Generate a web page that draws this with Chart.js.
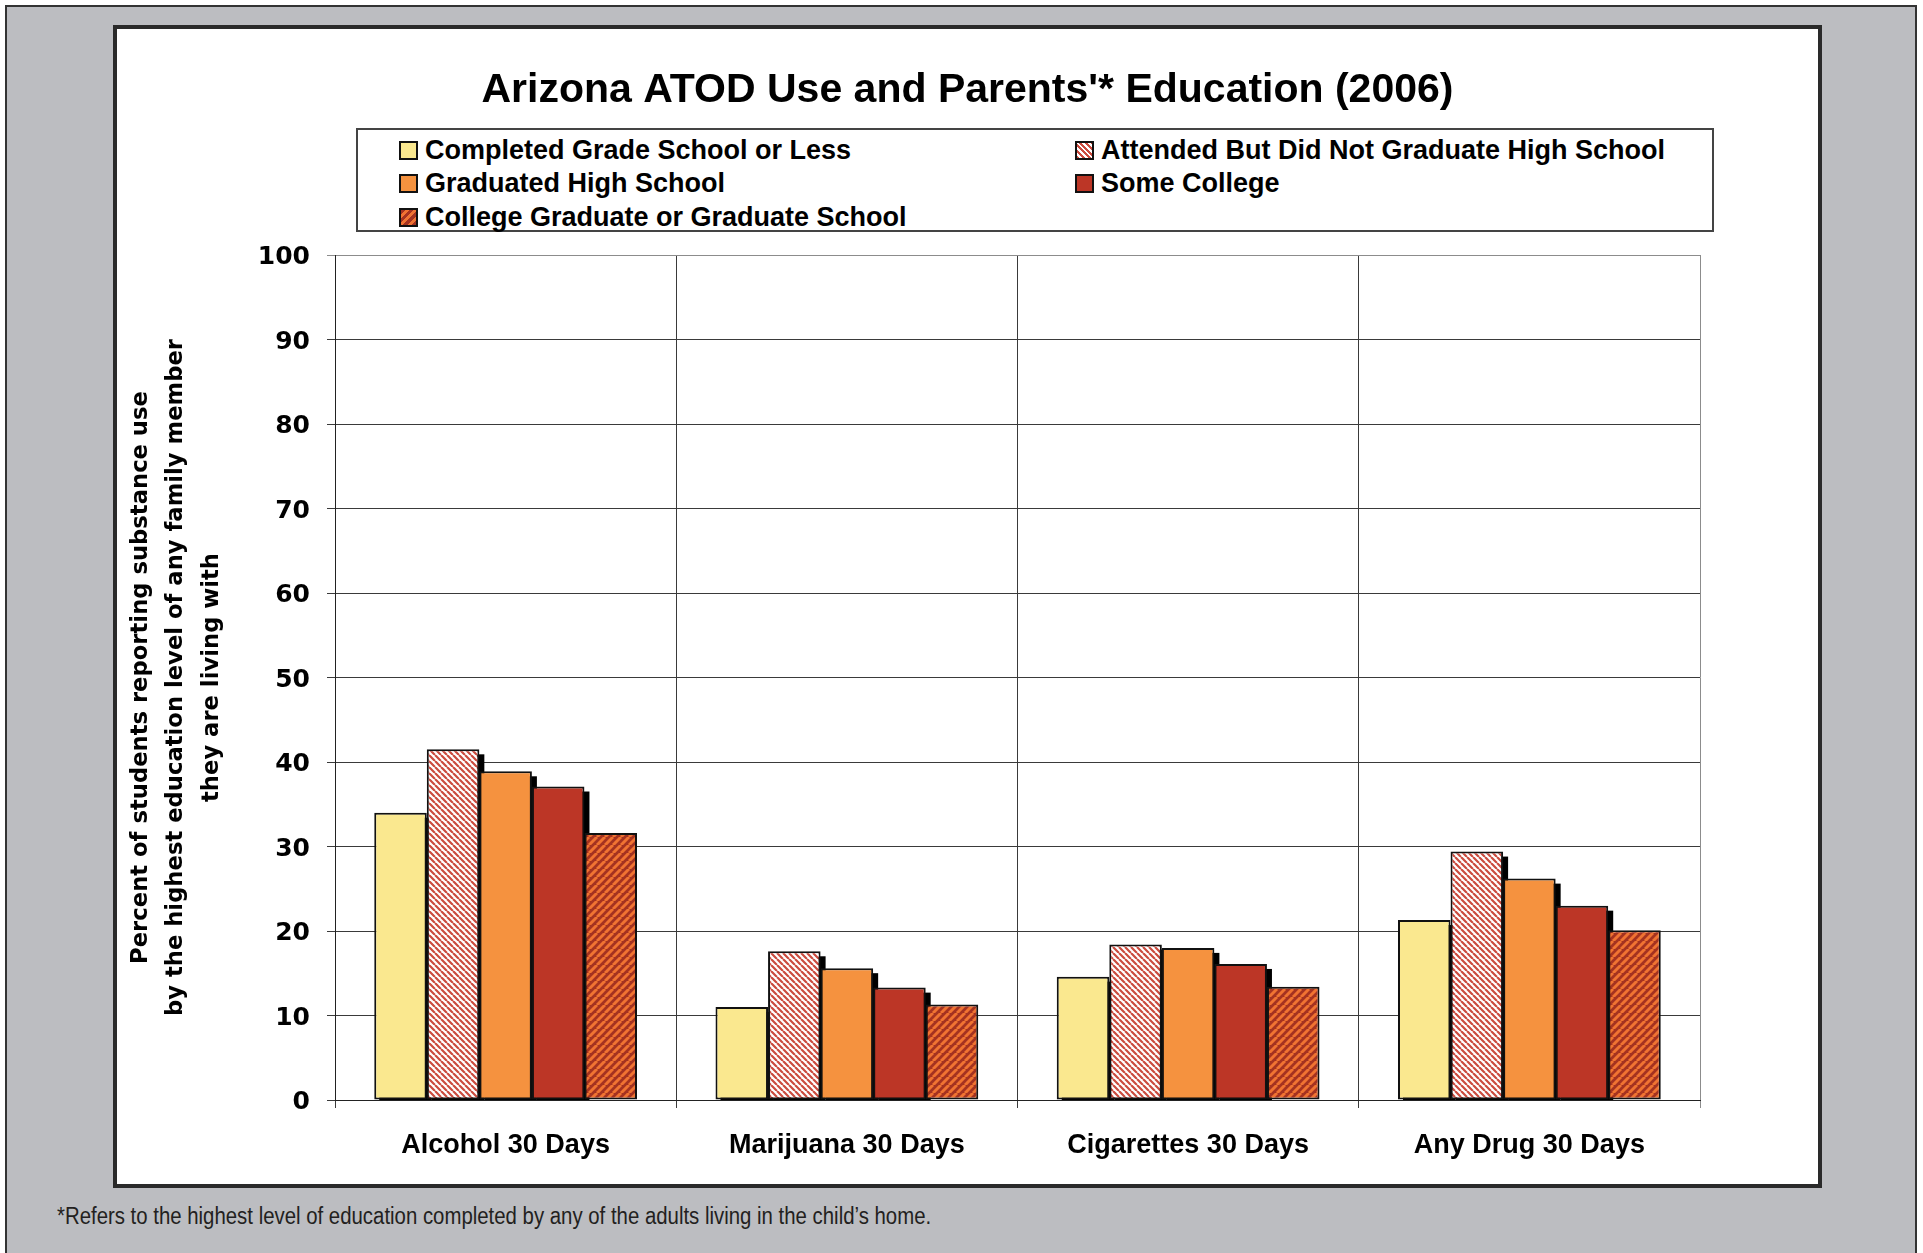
<!DOCTYPE html>
<html>
<head>
<meta charset="utf-8">
<title>Arizona ATOD Use and Parents' Education (2006)</title>
<script src="https://cdn.jsdelivr.net/npm/chart.js@4.4.1/dist/chart.umd.min.js"></script>
<style>
html, body { margin: 0; padding: 0; background: #fff; }
body { width: 1923px; height: 1253px; position: relative; overflow: hidden; font-family: "Liberation Sans", Arial, sans-serif; }
#frame { position: absolute; left: 5px; top: 5px; width: 1908px; height: 1270px; background: #bcbdc1; border: 2px solid #333; }
#panel { position: absolute; left: 113px; top: 25px; width: 1701px; height: 1155px; background: #fff; border: 4px solid #2a2a2a; }
#wrap { position: absolute; left: 0; top: 0; width: 1701px; height: 1155px; }
#legend { position: absolute; left: 239px; top: 99px; width: 1313px; height: 96.5px; border: 2px solid #444; background: #fff;
  display: grid; grid-template-columns: 676px auto; grid-auto-rows: 33.5px; padding: 3.5px 0 0 41px; box-sizing: content-box; }
#legend .item { display: flex; align-items: center; font: bold 27px "Liberation Sans", Arial, sans-serif; color: #000; white-space: nowrap; }
#legend .sw { width: 19px; height: 19px; box-sizing: border-box; border: 2px solid #111; margin-right: 7px; flex: none; }
#note { position: absolute; left: 57px; top: 1203px; font: 23px "Liberation Sans", Arial, sans-serif; color: #231f20; white-space: nowrap;
  transform-origin: 0 0; transform: scaleX(0.886); }
</style>
</head>
<body>
<div id="frame"></div>
<div id="panel">
  <div id="wrap"><canvas id="myChart"></canvas></div>
  <div id="legend"></div>
</div>
<div id="note">*Refers to the highest level of education completed by any of the adults living in the child’s home.</div>
<script>
// values
const chartTitle = "Arizona ATOD Use and Parents'* Education (2006)";
const yTitle = ['Percent of students reporting substance use', 'by the highest education level of any family member', 'they are living with'];
const categories = ['Alcohol 30 Days', 'Marijuana 30 Days', 'Cigarettes 30 Days', 'Any Drug 30 Days'];
const gradeSchool = [34.0, 11.0, 14.6, 21.3];
const someHighSchool = [41.5, 17.6, 18.4, 29.4];
const highSchool = [38.9, 15.6, 18.0, 26.2];
const someCollege = [37.1, 13.3, 16.1, 23.0];
const collegeGrad = [31.6, 11.3, 13.4, 20.1];

function stripes(bg, fg, size, lw, slash) {
    var c = document.createElement('canvas');
    c.width = size; c.height = size;
    var x = c.getContext('2d');
    x.fillStyle = bg;
    x.fillRect(0, 0, size, size);
    x.strokeStyle = fg;
    x.lineWidth = lw;
    x.beginPath();
    for (var k = -size; k <= size; k += size) {
        if (slash) { x.moveTo(k, size); x.lineTo(k + size, 0); }
        else { x.moveTo(k, 0); x.lineTo(k + size, size); }
    }
    x.stroke();
    return x.createPattern(c, 'repeat');
}

const series = [
    { label: 'Completed Grade School or Less', data: gradeSchool, fill: '#fae88f', css: '#fae88f' },
    { label: 'Attended But Did Not Graduate High School', data: someHighSchool, fill: stripes('#ffffff', '#cb4b3e', 6, 2.2, false),
      css: 'repeating-linear-gradient(45deg, #cb4b3e 0 2px, #fff 2px 4px)' },
    { label: 'Graduated High School', data: highSchool, fill: '#f5923f', css: '#f5923f' },
    { label: 'Some College', data: someCollege, fill: '#bc3626', css: '#bc3626' },
    { label: 'College Graduate or Graduate School', data: collegeGrad, fill: stripes('#a43220', '#f07332', 8, 3, true),
      css: 'repeating-linear-gradient(135deg, #a43220 0 3px, #f07332 3px 6px)' }
];

// legend in two columns, like the original
var legendEl = document.getElementById('legend');
series.forEach(function(s) {
    var it = document.createElement('div');
    it.className = 'item';
    var sw = document.createElement('span');
    sw.className = 'sw';
    sw.style.background = s.css;
    it.appendChild(sw);
    it.appendChild(document.createTextNode(s.label));
    legendEl.appendChild(it);
});

// black drop shadow to the right of each bar (not the last series)
const barShadow = {
    id: 'barShadow',
    beforeDatasetsDraw(chart) {
        const ctx = chart.ctx, a = chart.chartArea;
        ctx.save();
        ctx.beginPath();
        ctx.rect(a.left, a.top, a.right - a.left, a.bottom - a.top);
        ctx.clip();
        ctx.fillStyle = '#000';
        const n = chart.data.datasets.length;
        for (let i = 0; i < n - 1; i++) {
            chart.getDatasetMeta(i).data.forEach(function(bar) {
                const p = bar.getProps(['x', 'y', 'base', 'width'], true);
                ctx.fillRect(p.x - p.width / 2 + 5, p.y + 5, p.width, p.base - p.y);
            });
        }
        ctx.restore();
    }
};

const tickFont = { family: 'DejaVu Sans', weight: 'bold', size: 25 };
const labelFont = { family: 'Liberation Sans', weight: 'bold', size: 27 };

function createChart() {
    var ctx = document.getElementById('myChart').getContext('2d');
    return new Chart(ctx, {
        type: 'bar',
        data: {
            labels: categories,
            datasets: series.map(function(s) {
                return {
                    label: s.label,
                    data: s.data,
                    backgroundColor: s.fill,
                    borderColor: '#111',
                    borderWidth: 2,
                    borderSkipped: false,
                    barPercentage: 1.0,
                    categoryPercentage: 0.77
                };
            })
        },
        plugins: [barShadow],
        options: {
            responsive: true,
            maintainAspectRatio: false,
            animation: false,
            layout: { padding: 0 },
            plugins: {
                legend: { display: false },
                tooltip: { enabled: false },
                title: {
                    display: true,
                    text: chartTitle,
                    color: '#000',
                    font: { family: 'Liberation Sans', weight: 'bold', size: 41, lineHeight: 1.2 },
                    padding: { top: 37, bottom: 139.8 }
                }
            },
            scales: {
                x: {
                    grid: {
                        offset: true,
                        color: c => c.type === 'tick' ? '#3a3a3a' : '#8c8c8c',
                        tickLength: 8
                    },
                    border: { color: '#222' },
                    ticks: { color: '#000', font: labelFont, padding: 21 },
                    afterFit: s => { s.height = 84; }
                },
                y: {
                    min: 0,
                    max: 100,
                    ticks: { stepSize: 10, color: '#000', font: tickFont, padding: 17, labelOffset: 2.5 },
                    grid: {
                        color: c => (c.tick && c.tick.value === 100) ? '#8c8c8c' : '#3a3a3a',
                        tickLength: 8
                    },
                    border: { color: '#222' },
                    title: {
                        display: true,
                        text: yTitle,
                        color: '#000',
                        font: { family: 'DejaVu Sans', weight: 'bold', size: 22.7, lineHeight: '35.5px' },
                        padding: { top: 6, bottom: 0 }
                    },
                    afterFit: s => { s.width = 218; }
                },
                yRight: {
                    position: 'right',
                    min: 0,
                    max: 100,
                    grid: { display: false },
                    ticks: { display: false },
                    border: { display: false },
                    afterFit: s => { s.width = 118; }
                }
            }
        }
    });
}

createChart();
</script>
</body>
</html>
